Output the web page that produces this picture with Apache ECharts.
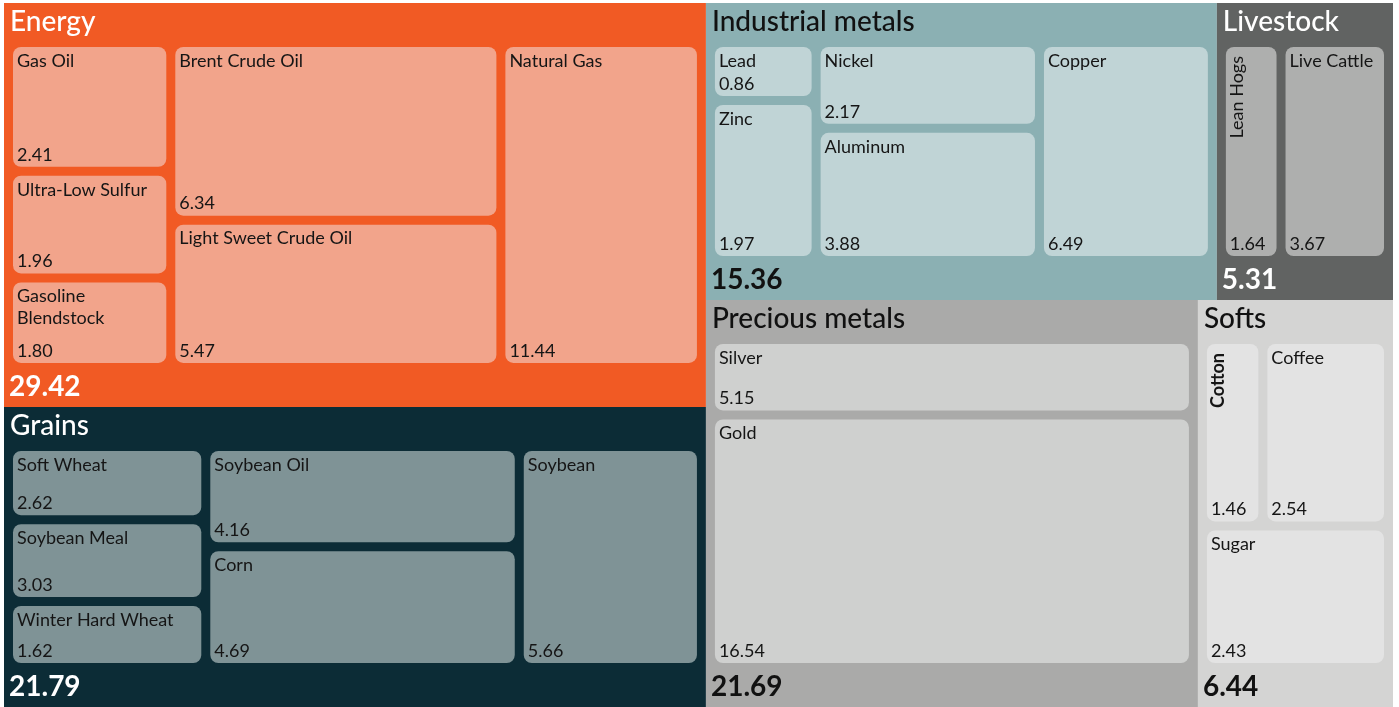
<!DOCTYPE html>
<html>
<head>
<meta charset="utf-8">
<script src="https://cdn.jsdelivr.net/npm/echarts@6/dist/echarts.min.js"></script>
<style>
html, body { margin: 0; padding: 0; background: #fff; }
#main { width: 1399px; height: 707px; }
</style>
</head>
<body>
<div id="main"></div>
<script>
// sectors, in tiling order
var groupNames = ['Energy', 'Grains', 'Industrial metals', 'Livestock', 'Precious metals', 'Softs'];
var groupTotals = [29.42, 21.79, 15.36, 5.31, 21.69, 6.44];
var groupSizes = [29.00, 21.54, 15.52, 5.35, 20.48, 8.12];

var energyNames = ['Gas Oil', 'Ultra-Low Sulfur', 'Gasoline Blendstock', 'Brent Crude Oil', 'Light Sweet Crude Oil', 'Natural Gas'];
var energyValues = [2.41, 1.96, 1.80, 6.34, 5.47, 11.44];
var energySizes = [2.69, 2.23, 1.87, 7.55, 6.26, 8.39];

var grainsNames = ['Soft Wheat', 'Soybean Meal', 'Winter Hard Wheat', 'Soybean Oil', 'Corn', 'Soybean'];
var grainsValues = [2.62, 3.03, 1.62, 4.16, 4.69, 5.66];
var grainsSizes = [2.03, 2.27, 1.83, 4.42, 5.32, 5.66];

var industrialNames = ['Lead', 'Zinc', 'Nickel', 'Aluminum', 'Copper'];
var industrialValues = [0.86, 1.97, 2.17, 3.88, 6.49];
var industrialSizes = [0.87, 2.40, 2.72, 4.19, 5.35];

var livestockNames = ['Lean Hogs', 'Live Cattle'];
var livestockValues = [1.64, 3.67];
var livestockSizes = [1.91, 3.44];

var preciousNames = ['Silver', 'Gold'];
var preciousValues = [5.15, 16.54];
var preciousSizes = [4.71, 15.77];

var softsNames = ['Cotton', 'Coffee', 'Sugar'];
var softsValues = [1.46, 2.54, 2.43];
var softsSizes = [1.50, 3.12, 3.51];

var leafNames = [energyNames, grainsNames, industrialNames, livestockNames, preciousNames, softsNames];
var leafValues = [energyValues, grainsValues, industrialValues, livestockValues, preciousValues, softsValues];
var leafSizes = [energySizes, grainsSizes, industrialSizes, livestockSizes, preciousSizes, softsSizes];

var groupColors = ['#F15A24', '#0C2C36', '#8BB0B3', '#616362', '#AAAAA9', '#D4D4D3'];
var tileColors = ['#F2A48B', '#7F9396', '#C0D4D6', '#AEAFAE', '#CFD0CF', '#E3E3E3'];
var headColors = ['#ffffff', '#ffffff', '#111111', '#ffffff', '#111111', '#111111'];

var FONT = 'Lato, "Open Sans", sans-serif';
var BOX = { left: 4, top: 3, width: 1389, height: 704 };
var SIDE = 9, HEAD = 44, FOOT = 44;

var chart = echarts.init(document.getElementById('main'));

function baseTreemap(box) {
	return {
		type : 'treemap',
		left : box.left,
		top : box.top,
		width : box.width,
		height : box.height,
		sort : false,
		roam : false,
		nodeClick : false,
		animation : false,
		breadcrumb : { show : false }
	};
}

// sector blocks
var groupSeries = baseTreemap(BOX);
groupSeries.levels = [ { itemStyle : { borderWidth : 0, gapWidth : 0 } } ];
groupSeries.label = {
	position : 'insideTopLeft',
	distance : 0,
	padding : [ 5, 6, 0, 6 ],
	fontFamily : FONT,
	fontSize : 28,
	fontWeight : 500,
	lineHeight : 28
};
groupSeries.data = groupNames.map(function(name, i) {
	return {
		name : name,
		value : groupSizes[i],
		itemStyle : { color : groupColors[i] },
		label : { color : headColors[i] }
	};
});
chart.setOption({ series : [ groupSeries ] });

var groupData = chart.getModel().getSeriesByIndex(0).getData();
var rects = [], boxes = [];
for (var i = 0; i < groupNames.length; i++) {
	var l = groupData.getItemLayout(i + 1);
	rects.push({ x : BOX.left + l.x, y : BOX.top + l.y, w : l.width, h : l.height });
	boxes.push({
		left : BOX.left + l.x + SIDE,
		top : BOX.top + l.y + HEAD,
		width : l.width - 2 * SIDE,
		height : l.height - HEAD - FOOT
	});
}

// tiles inside every sector
var series = [ groupSeries ];
boxes.forEach(function(box, i) {
	var s = baseTreemap(box);
	// grains keeps its three small tiles in one column
	s.squareRatio = i === 1 ? 2.2 : (1 + Math.sqrt(5)) / 2;
	s.levels = [ {
		itemStyle : { borderWidth : 0, gapWidth : 9, color : groupColors[i] }
	}, {
		itemStyle : { borderWidth : 0, borderRadius : 8, color : tileColors[i] }
	} ];
	s.label = {
		position : 'insideTopLeft',
		distance : 0,
		padding : [ 3, 4, 0, 4 ],
		fontFamily : FONT,
		fontSize : 18,
		lineHeight : 22,
		color : '#151515',
		overflow : 'break'
	};
	s.data = leafNames[i].map(function(name, j) {
		var item = { name : name, value : leafSizes[i][j] };
		if (name === 'Lean Hogs' || name === 'Cotton') {
			item.label = {
				position : [ 0, 9 ],
				rotate : 90,
				align : 'right',
				verticalAlign : 'top',
				padding : 0,
				overflow : 'none',
				fontWeight : name === 'Cotton' ? 'bold' : 'normal'
			};
		}
		return item;
	});
	series.push(s);
});
chart.setOption({ series : series });

// values sit at the bottom-left of every block
var texts = [];
rects.forEach(function(r, i) {
	texts.push({
		type : 'text',
		z : 100,
		x : r.x + 5,
		y : r.y + r.h - 6,
		style : {
			text : groupTotals[i].toFixed(2),
			fill : headColors[i],
			fontFamily : FONT,
			fontSize : 28,
			fontWeight : 'bold',
			align : 'left',
			verticalAlign : 'bottom',
			textAlign : 'left',
			textVerticalAlign : 'bottom'
		}
	});
	var d = chart.getModel().getSeriesByIndex(i + 1).getData();
	leafValues[i].forEach(function(v, j) {
		var t = d.getItemLayout(j + 1);
		texts.push({
			type : 'text',
			z : 100,
			x : boxes[i].left + t.x + 4,
			y : boxes[i].top + t.y + t.height - 3,
			style : {
				text : v.toFixed(2),
				fill : '#151515',
				fontFamily : FONT,
				fontSize : 18,
				align : 'left',
				verticalAlign : 'bottom',
				textAlign : 'left',
				textVerticalAlign : 'bottom'
			}
		});
	});
});
chart.setOption({ graphic : texts });
</script>
</body>
</html>
